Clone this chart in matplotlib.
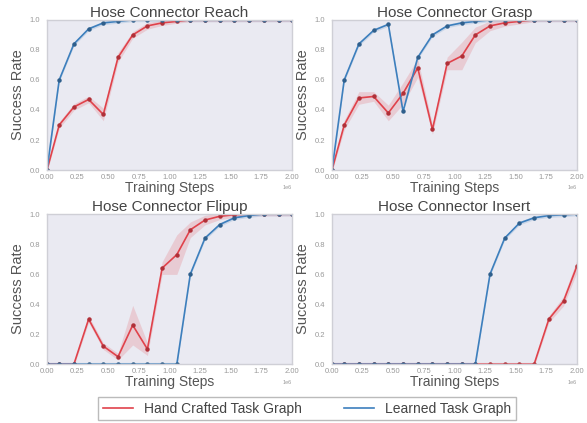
import matplotlib.pyplot as plt
import numpy as np

plt.rcParams['font.family'] = ['Liberation Sans', 'DejaVu Sans']

# training steps (in millions) where each evaluation was logged
steps = [0, 0.10, 0.22, 0.34, 0.46, 0.58, 0.70, 0.82, 0.94, 1.06, 1.17, 1.29, 1.41, 1.53, 1.65, 1.77, 1.89, 2.0]

titles = ["Hose Connector Reach", "Hose Connector Grasp", "Hose Connector Flipup", "Hose Connector Insert"]

# hand crafted task graph, mean success rate
hand_reach = [0, 0.30, 0.42, 0.47, 0.37, 0.75, 0.90, 0.96, 0.98, 0.99, 1.0, 1.0, 1.0, 1.0, 1.0, 1.0, 1.0, 1.0]
hand_grasp = [0, 0.30, 0.48, 0.49, 0.38, 0.51, 0.68, 0.27, 0.71, 0.76, 0.90, 0.96, 0.98, 0.99, 1.0, 1.0, 1.0, 1.0]
hand_flipup = [0, 0, 0, 0.30, 0.12, 0.05, 0.26, 0.10, 0.64, 0.73, 0.895, 0.96, 0.985, 0.995, 1.0, 1.0, 1.0, 1.0]
hand_insert = [0, 0, 0, 0, 0, 0, 0, 0, 0, 0, 0, 0, 0, 0, 0, 0.30, 0.42, 0.655]

# hand crafted task graph, spread across runs
hand_reach_sd = [0, 0.01, 0.01, 0.01, 0.03, 0.02, 0.01, 0.01, 0.005, 0, 0, 0, 0, 0, 0, 0, 0, 0]
hand_grasp_sd = [0, 0.02, 0.03, 0.02, 0.04, 0.06, 0.05, 0.02, 0.03, 0.08, 0.04, 0.02, 0.01, 0.005, 0, 0, 0, 0]
hand_flipup_sd = [0, 0, 0, 0.01, 0.01, 0.01, 0.12, 0.03, 0.03, 0.12, 0.04, 0.02, 0.01, 0.005, 0, 0, 0, 0]
hand_insert_sd = [0, 0, 0, 0, 0, 0, 0, 0, 0, 0, 0, 0, 0, 0, 0, 0.01, 0.02, 0.03]

# learned task graph, mean success rate
learned_reach = [0, 0.60, 0.84, 0.94, 0.98, 0.99, 1.0, 1.0, 1.0, 1.0, 1.0, 1.0, 1.0, 1.0, 1.0, 1.0, 1.0, 1.0]
learned_grasp = [0, 0.60, 0.84, 0.93, 0.97, 0.39, 0.75, 0.90, 0.96, 0.98, 0.99, 1.0, 1.0, 1.0, 1.0, 1.0, 1.0, 1.0]
learned_flipup = [0, 0, 0, 0, 0, 0, 0, 0, 0, 0, 0.60, 0.84, 0.93, 0.975, 0.99, 1.0, 1.0, 1.0]
learned_insert = [0, 0, 0, 0, 0, 0, 0, 0, 0, 0, 0, 0.60, 0.84, 0.94, 0.975, 0.99, 0.995, 1.0]

hand = [hand_reach, hand_grasp, hand_flipup, hand_insert]
hand_sd = [hand_reach_sd, hand_grasp_sd, hand_flipup_sd, hand_insert_sd]
learned = [learned_reach, learned_grasp, learned_flipup, learned_insert]

red = "#e0424b"
blue = "#3d7fbd"

x = np.array(steps) * 1e6

fig, axes = plt.subplots(2, 2, figsize=(5.87, 4.23), dpi=100)
plt.subplots_adjust(left=0.080, right=0.983, top=0.953, bottom=0.139, wspace=0.163, hspace=0.293)

for ax, title, h, hs, l in zip(axes.flat, titles, hand, hand_sd, learned):
    h = np.array(h)
    hs = np.array(hs)
    l = np.array(l)
    ax.set_facecolor("#eaeaf2")
    # shaded spread around each curve
    ax.fill_between(x, h - hs - 0.012, h + hs + 0.012, color=red, alpha=0.18, linewidth=0)
    ax.fill_between(x, l - 0.012, l + 0.012, color=blue, alpha=0.18, linewidth=0)
    ax.plot(x, h, color=red, linewidth=1.2, marker="o", markersize=2.2,
            markerfacecolor="#b03038", markeredgecolor="#b03038")
    ax.plot(x, l, color=blue, linewidth=1.2, marker="o", markersize=2.2,
            markerfacecolor="#2f5f8c", markeredgecolor="#2f5f8c")
    ax.set_xlim(0, 2e6)
    ax.set_ylim(0, 1.0)
    ax.set_xticks(np.arange(0, 2.01e6, 0.25e6))
    ax.set_yticks([0, 0.2, 0.4, 0.6, 0.8, 1.0])
    ax.ticklabel_format(axis="x", style="sci", scilimits=(0, 0))
    ax.xaxis.get_offset_text().set_fontsize(4)
    ax.xaxis.get_offset_text().set_color("#aaaaaa")
    ax.tick_params(labelsize=5.5, labelcolor="#999999", length=0)
    ax.tick_params(axis="x", pad=3)
    ax.tick_params(axis="y", pad=5)
    ax.set_title(title, fontsize=11, color="#444444", pad=1)
    ax.set_xlabel("Training Steps", fontsize=10, color="#555555", labelpad=0)
    ax.set_ylabel("Success Rate", fontsize=10.5, color="#555555", labelpad=3)
    for s in ax.spines.values():
        s.set_color("#cfcfd6")
        s.set_linewidth(1)
    ax.grid(False)

handles = [plt.Line2D([], [], color=red, linewidth=1.2),
           plt.Line2D([], [], color=blue, linewidth=1.2)]
leg = fig.legend(handles, ["Hand Crafted Task Graph", "Learned Task Graph"],
                 loc="center", bbox_to_anchor=(0.523, 0.034), ncol=2, fontsize=10,
                 frameon=True, fancybox=False, edgecolor="#aaaaaa",
                 handlelength=2.2, columnspacing=3.0, borderpad=0.35)
for t in leg.get_texts():
    t.set_color("#444444")

plt.savefig("out.png")
